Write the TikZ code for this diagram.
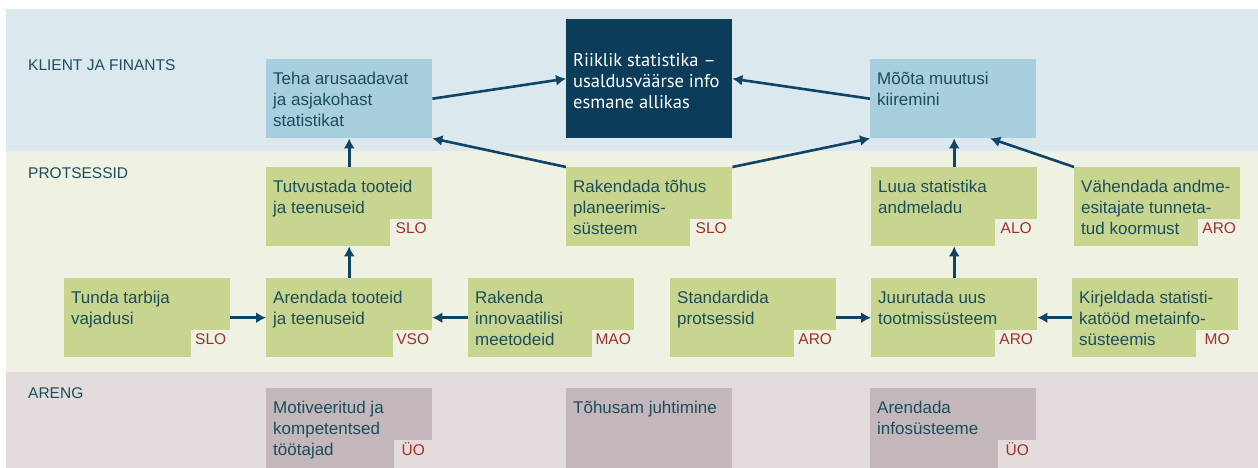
\documentclass[tikz,border=0pt]{standalone}
\usepackage{fontspec}
\setmainfont{Liberation Sans}
\newfontfamily\riikfont{PT Sans}
\usepackage{tikz}
\usetikzlibrary{arrows.meta}
\definecolor{topband}{HTML}{DBE8ED}
\definecolor{midband}{HTML}{EFF2E3}
\definecolor{botband}{HTML}{E4DCDC}
\definecolor{bluebox}{HTML}{A8CFDD}
\definecolor{navybox}{HTML}{0B3D5A}
\definecolor{greenbox}{HTML}{C8D58F}
\definecolor{graybox}{HTML}{C3B7BB}
\definecolor{tealtext}{HTML}{1B4D5C}
\definecolor{unitred}{HTML}{A0302B}
\definecolor{arrowblue}{HTML}{0E4566}
\tikzstyle{kpi} = [rectangle, fill=bluebox, anchor=north west, minimum width=166pt, minimum height=79pt, inner sep=0pt]
\tikzstyle{proc} = [kpi, fill=greenbox]
\tikzstyle{dev} = [kpi, fill=graybox, minimum height=80pt]
\tikzstyle{vision} = [kpi, fill=navybox, minimum height=119pt]
\tikzstyle{txt} = [anchor=north west, inner sep=0pt, align=left, text=tealtext, font=\fontsize{17}{21}\selectfont]
\tikzstyle{unit} = [anchor=south east, inner sep=0pt, fill=midband, minimum width=42pt, minimum height=27pt, text=unitred, font=\fontsize{15.5}{18}\selectfont, text height=10pt, text depth=8pt]
\tikzstyle{devunit} = [unit, fill=botband, minimum height=28pt]
\tikzstyle{layer} = [anchor=base west, inner sep=0pt, text=tealtext, font=\fontsize{15.5}{18}\selectfont]
\tikzstyle{line} = [draw=arrowblue, line width=2.6pt, -{Latex[length=10pt,width=11pt]}]
\begin{document}
\begin{tikzpicture}[x=1pt, y=-1pt]
			\useasboundingbox (0,0) rectangle (1258,468);
			% layers
			\fill[topband] (6,9) rectangle (1258,151);
			\fill[midband] (6,151) rectangle (1258,372);
			\fill[botband] (6,372) rectangle (1258,468);
			\node [layer] (klient) at (28,71) {KLIENT JA FINANTS};
			\node [layer] (prots) at (28,178) {PROTSESSID};
			\node [layer] (areng) at (28,398) {ARENG};
			% klient ja finants
			\node [kpi] (teha) at (266,59) {};
			\node [txt] (tehaT) at ([shift={(7,12.5)}]teha.north west) {Teha arusaadavat\\ja asjakohast\\statistikat};
			\node [vision] (riik) at (566,19) {};
			\node [txt, text=white, font=\riikfont\fontsize{18.5}{21}\selectfont] (riikT) at ([shift={(7,34)}]riik.north west) {Riiklik statistika –\\usaldusväärse info\\esmane allikas};
			\node [kpi] (moota) at (870,59) {};
			\node [txt] (mootaT) at ([shift={(7,12.5)}]moota.north west) {Mõõta muutusi\\kiiremini};
			% protsessid
			\node [proc] (tutv) at (266,167) {};
			\node [txt] (tutvT) at ([shift={(7,12.5)}]tutv.north west) {Tutvustada tooteid\\ja teenuseid};
			\node [unit] (tutvU) at (tutv.south east) {SLO};
			\node [proc] (rakt) at (566,167) {};
			\node [txt] (raktT) at ([shift={(7,12.5)}]rakt.north west) {Rakendada tõhus\\planeerimis-\\süsteem};
			\node [unit] (raktU) at (rakt.south east) {SLO};
			\node [proc] (luua) at (871,167) {};
			\node [txt] (luuaT) at ([shift={(7,12.5)}]luua.north west) {Luua statistika\\andmeladu};
			\node [unit] (luuaU) at (luua.south east) {ALO};
			\node [proc] (vahe) at (1074,167) {};
			\node [txt] (vaheT) at ([shift={(7,12.5)}]vahe.north west) {Vähendada andme-\\esitajate tunneta-\\tud koormust};
			\node [unit] (vaheU) at (vahe.south east) {ARO};
			\node [proc] (tunda) at (64,278) {};
			\node [txt] (tundaT) at ([shift={(7,12.5)}]tunda.north west) {Tunda tarbija\\vajadusi};
			\node [unit, minimum width=39pt] (tundaU) at (tunda.south east) {SLO};
			\node [proc] (arend) at (266,278) {};
			\node [txt] (arendT) at ([shift={(7,12.5)}]arend.north west) {Arendada tooteid\\ja teenuseid};
			\node [unit, minimum width=39pt] (arendU) at (arend.south east) {VSO};
			\node [proc] (rakend) at (468,278) {};
			\node [txt] (rakendT) at ([shift={(7,12.5)}]rakend.north west) {Rakenda\\innovaatilisi\\meetodeid};
			\node [unit] (rakendU) at (rakend.south east) {MAO};
			\node [proc] (stand) at (670,278) {};
			\node [txt] (standT) at ([shift={(7,12.5)}]stand.north west) {Standardida\\protsessid};
			\node [unit] (standU) at (stand.south east) {ARO};
			\node [proc] (juur) at (871,278) {};
			\node [txt] (juurT) at ([shift={(7,12.5)}]juur.north west) {Juurutada uus\\tootmissüsteem};
			\node [unit] (juurU) at (juur.south east) {ARO};
			\node [proc] (kirj) at (1072,278) {};
			\node [txt] (kirjT) at ([shift={(7,12.5)}]kirj.north west) {Kirjeldada statisti-\\katööd metainfo-\\süsteemis};
			\node [unit] (kirjU) at (kirj.south east) {MO};
			% areng
			\node [dev] (motiv) at (266,388) {};
			\node [txt] (motivT) at ([shift={(7,12.5)}]motiv.north west) {Motiveeritud ja\\kompetentsed\\töötajad};
			\node [devunit, minimum width=38pt] (motivU) at (motiv.south east) {ÜO};
			\node [dev] (juht) at (566,388) {};
			\node [txt] (juhtT) at ([shift={(7,12.5)}]juht.north west) {Tõhusam juhtimine};
			\node [dev] (info) at (870,388) {};
			\node [txt] (infoT) at ([shift={(7,12.5)}]info.north west) {Arendada\\infosüsteeme};
			\node [devunit, minimum width=38pt] (infoU) at (info.south east) {ÜO};
			% connectors
			\path [line] (teha.east) -- (riik.west);
			\path [line] (moota.west) -- (riik.east);
			\path [line] (tutv.north) -- (teha.south);
			\path [line] (rakt.north west) -- (teha.south east);
			\path [line] (rakt.north east) -- (moota.south west);
			\path [line] (luua.north) -- (luua.north |- moota.south);
			\path [line] (vahe.north west) -- ([xshift=37pt]moota.south);
			\path [line] (tunda.east) -- (arend.west);
			\path [line] (arend.north) -- (tutv.south);
			\path [line] (rakend.west) -- (arend.east);
			\path [line] (stand.east) -- (juur.west);
			\path [line] (kirj.west) -- (juur.east);
			\path [line] (juur.north) -- (luua.south);
		\end{tikzpicture}
\end{document}
